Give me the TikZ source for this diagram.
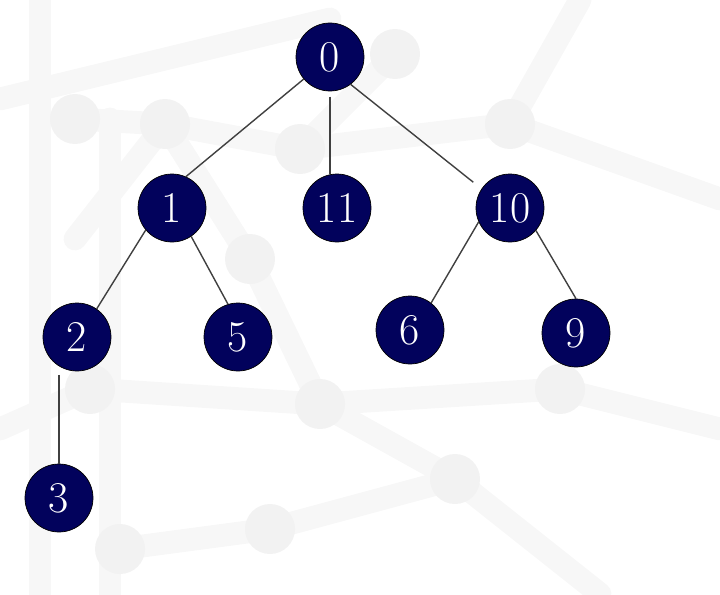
\documentclass[tikz,border=0pt]{standalone}
\usepackage{tikz}

\definecolor{treenavy}{RGB}{2,2,92}

\begin{document}
\begin{tikzpicture}[scale=1,
    vert/.style={circle, draw=black, fill=treenavy, text=white, minimum size=1.36cm, inner sep=0pt, font=\fontsize{25}{25}\selectfont},
    branch/.style={draw=black!75, line width=0.8pt},
    bgline/.style={draw=black!3, line width=13pt, line cap=round},
    bgdot/.style={fill=black!5}]
            \useasboundingbox (0,0) rectangle (14.4,11.88);
            % faint network behind the tree
            \foreach \xa/\ya/\xb/\yb in {0/9.9/6.6/11.5, 1.5/9.5/3.3/9.4, 3.3/9.4/6/8.9, 6/8.9/7.9/10.8, 6/8.9/10.2/9.4,
                10.2/9.4/11.6/11.88, 10.2/9.4/14.4/7.9, 3.3/9.4/1.5/7.1, 3.3/9.4/5/6.7, 5/6.7/6.4/3.8,
                1.8/4.1/6.4/3.8, 6.4/3.8/9.1/2.3, 9.1/2.3/5.4/1.3, 5.4/1.3/2.4/0.9, 6.4/3.8/11.2/4.1,
                11.2/4.1/14.4/3.3, 1.8/4.1/0/3.3, 9.1/2.3/12/0, 0.8/11.88/0.8/0, 2.2/9.5/2.2/0}
                \draw[bgline] (\xa,\ya) -- (\xb,\yb);
            \foreach \x/\y in {1.5/9.5, 3.3/9.4, 6/8.9, 7.9/10.8, 10.2/9.4, 5/6.7, 6.4/3.8, 9.1/2.3, 5.4/1.3, 2.4/0.9, 1.8/4.1, 11.2/4.1}
                \fill[bgdot] (\x,\y) circle (0.5);
            % the tree
            \node[vert] (n0) at (6.6,10.74) {0};
            \node[vert] (n1) at (3.44,7.72) {1};
            \node[vert] (n11) at (6.74,7.72) {11};
            \node[vert] (n10) at (10.2,7.72) {10};
            \node[vert] (n2) at (1.54,5.14) {2};
            \node[vert] (n5) at (4.76,5.14) {5};
            \node[vert] (n6) at (8.2,5.28) {6};
            \node[vert] (n9) at (11.52,5.22) {9};
            \node[vert] (n3) at (1.18,1.92) {3};
            \draw[branch] (n0.220) -- (n1.66);
            \draw[branch, shorten <=3pt] (n0.south) -- (n0.south |- n11.north);
            \draw[branch, shorten >=6pt] (n0.307) -- (n10.146);
            \draw[branch] (n1.220) -- (n2.55) (n1.304) -- (n5.107);
            \draw[branch] (n10.204) -- (n6.52) (n10.319) -- (n9.90);
            \draw[branch, shorten <=2pt] (n3 |- n2.south) -- (n3.north);
        \end{tikzpicture}
\end{document}
